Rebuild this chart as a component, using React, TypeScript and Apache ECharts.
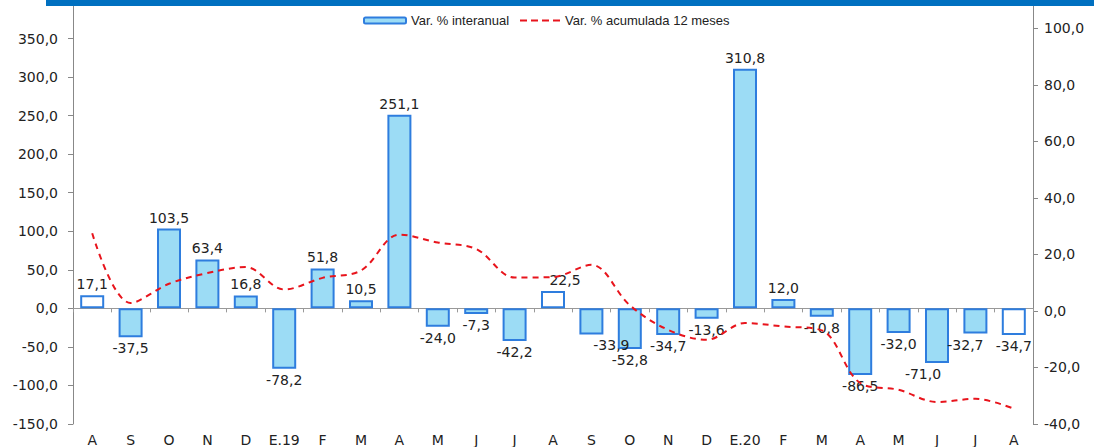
import React, { useEffect, useRef } from "react";
import * as echarts from "echarts";

const categories = ["A", "S", "O", "N", "D", "E.19", "F", "M", "A", "M", "J", "J", "A", "S", "O", "N", "D", "E.20", "F", "M", "A", "M", "J", "J", "A"];
const interanual = [17.1, -37.5, 103.5, 63.4, 16.8, -78.2, 51.8, 10.5, 251.1, -24.0, -7.3, -42.2, 22.5, -33.9, -52.8, -34.7, -13.6, 310.8, 12.0, -10.8, -86.5, -32.0, -71.0, -32.7, -34.7];
const acumulada = [27.5, 2.8, 9.6, 13.4, 15.5, 7.6, 11.7, 14.3, 27.0, 24.2, 21.9, 11.8, 12.0, 16.3, 2.0, -6.7, -10.2, -4.3, -5.5, -6.9, -25.5, -27.9, -32.2, -31.1, -34.6];
const whiteBars = [0, 12, 24];
const leftTicks = { min: -150, max: 400, interval: 50 };
const rightTicks = { min: -40, max: 110, interval: 20 };
const seriesNames = ["Var. % interanual", "Var. % acumulada 12 meses"];

const labelNudge: Record<number, number[]> = { 12: [12, 0], 13: [20, 0], 22: [-14, 0], 23: [-10, 0] };

const fmt = (v: number) => v.toFixed(1).replace(".", ",");
const FONT = "DejaVu Sans";
const LEGFONT = "Liberation Sans";
const TXT = "#222";
const RED = "#E8141C";

export default function App() {
  const ref = useRef<HTMLDivElement>(null);
  useEffect(() => {
    if (!ref.current) return;
    const chart = echarts.init(ref.current, undefined, { renderer: "svg" });
    const barData = interanual.map((v, i) => ({
      value: v,
      itemStyle: { color: whiteBars.includes(i) ? "#ffffff" : "#9CDCF5" },
      label: { position: v >= 0 ? "top" : "bottom", offset: labelNudge[i] || [0, 0] },
    }));
    chart.setOption({
      animation: false,
      textStyle: { fontFamily: FONT },
      grid: { left: 73, right: 61, top: 0, bottom: 23, containLabel: false },
      legend: [
        {
          data: [seriesNames[0]],
          left: 363,
          top: 14,
          padding: 0,
          itemWidth: 42,
          itemHeight: 6,
          textStyle: { fontSize: 13, color: TXT, fontFamily: LEGFONT },
        },
        {
          data: [
            {
              name: seriesNames[1],
              icon: "path://M0 0h7v2H0z M11 0h7v2h-7z M22 0h7v2h-7z M33 0h7v2h-7z",
              itemStyle: { color: RED, borderWidth: 0 },
            },
          ],
          left: 520,
          top: 14,
          padding: 0,
          itemWidth: 40,
          itemHeight: 2,
          textStyle: { fontSize: 13, color: TXT, fontFamily: LEGFONT },
        },
      ],
      xAxis: [
        {
          type: "category",
          data: categories,
          position: "bottom",
          axisLine: { onZero: true, onZeroAxisIndex: 0, lineStyle: { color: "#999", width: 1 } },
          axisTick: { show: true, length: 4, lineStyle: { color: "#999" } },
          axisLabel: { show: false },
          splitLine: { show: false },
        },
        {
          type: "category",
          data: categories,
          position: "bottom",
          axisLine: { show: false, onZero: false },
          axisTick: { show: false },
          axisLabel: { show: true, color: TXT, fontSize: 14, margin: 9, fontFamily: FONT, interval: 0 },
          splitLine: { show: false },
        },
      ],
      yAxis: [
        {
          type: "value",
          ...leftTicks,
          position: "left",
          axisLine: { show: true, lineStyle: { color: "#888" } },
          axisTick: { show: true, length: 5, lineStyle: { color: "#888" } },
          axisLabel: { color: TXT, fontSize: 14, margin: 15, formatter: (v: number) => fmt(v), showMaxLabel: false, fontFamily: FONT },
          splitLine: { show: false },
        },
        {
          type: "value",
          ...rightTicks,
          position: "right",
          axisLine: { show: true, lineStyle: { color: "#888" } },
          axisTick: { show: true, length: 5, lineStyle: { color: "#888" } },
          axisLabel: { color: TXT, fontSize: 14, margin: 11, formatter: (v: number) => fmt(v), showMaxLabel: false, fontFamily: FONT },
          splitLine: { show: false },
        },
      ],
      series: [
        {
          name: seriesNames[0],
          type: "bar",
          xAxisIndex: 0,
          yAxisIndex: 0,
          barWidth: 24,
          data: barData,
          itemStyle: { color: "#9CDCF5", borderColor: "#2E7DDE", borderWidth: 2 },
          label: {
            show: true,
            color: TXT,
            fontSize: 14,
            fontFamily: FONT,
            distance: 4,
            formatter: (p: any) => fmt(p.value),
          },
          z: 2,
        },
        {
          name: seriesNames[1],
          type: "line",
          xAxisIndex: 0,
          yAxisIndex: 1,
          data: acumulada,
          smooth: 0.35,
          symbol: "none",
          lineStyle: { color: RED, width: 2, type: [6, 5] },
          itemStyle: { color: RED },
          z: 3,
        },
      ],
      graphic: [
        {
          type: "rect",
          left: 46,
          top: 0,
          z: 100,
          shape: { width: 1048, height: 6 },
          style: { fill: "#0070C0" },
        },
      ],
    });
    return () => chart.dispose();
  }, []);
  return <div ref={ref} style={{ position: "fixed", left: 0, top: 0, width: 1094, height: 447, background: "#fff" }} />;
}
